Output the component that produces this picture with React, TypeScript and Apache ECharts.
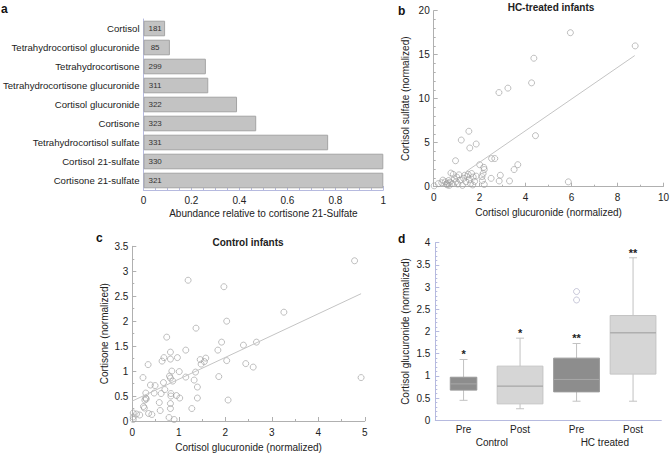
import React, { useEffect, useRef } from "react";
import * as echarts from "echarts";

// ---------- Panel a ----------
const steroidNames = [
  "Cortisol",
  "Tetrahydrocortisol glucuronide",
  "Tetrahydrocortisone",
  "Tetrahydrocortisone glucuronide",
  "Cortisol glucuronide",
  "Cortisone",
  "Tetrahydrocortisol sulfate",
  "Cortisol 21-sulfate",
  "Cortisone 21-sulfate",
];
const abundance = [0.09, 0.11, 0.26, 0.27, 0.39, 0.47, 0.77, 1.0, 1.0];
const sampleCounts = [181, 85, 299, 311, 322, 323, 331, 330, 321];

// ---------- Panel b (HC-treated infants) ----------
const hcPoints = [
  [0.02, 0.1], [0.2, 0.35], [0.35, 0.45], [0.4, 0.75], [0.5, 0.55], [0.55, 0.3],
  [0.6, 0.2], [0.62, 0.4], [0.65, 0.7], [0.68, 0.15], [0.7, 0.5], [0.75, 1.55],
  [0.8, 0.35], [0.85, 1.4], [0.9, 0.9], [0.95, 2.95], [0.98, 0.6], [1.0, 1.1],
  [1.05, 0.3], [1.1, 1.35], [1.15, 0.75], [1.2, 5.3], [1.25, 0.15], [1.3, 0.95],
  [1.35, 1.3], [1.4, 0.55], [1.45, 1.15], [1.5, 1.4], [1.53, 6.3], [1.55, 0.8],
  [1.57, 4.4], [1.6, 0.35], [1.65, 1.5], [1.7, 0.2], [1.72, 1.1], [1.78, 0.6],
  [1.85, 4.85], [1.85, 1.2], [2.0, 2.5], [2.1, 1.15], [2.12, 0.7], [2.15, 1.5],
  [2.18, 2.2], [2.2, 0.25], [2.2, 1.95], [2.5, 0.95], [2.52, 3.2], [2.66, 3.2],
  [2.84, 10.7], [2.85, 0.65], [2.9, 1.3], [3.23, 11.2], [3.3, 0.65], [3.5, 1.95],
  [3.66, 2.5], [4.26, 11.8], [4.36, 14.6], [4.43, 5.8], [5.86, 0.55], [5.95, 17.5],
  [8.77, 16.0],
];
const hcFit = [[1.4, 1.7], [8.75, 14.9]];

// ---------- Panel c (Control infants) ----------
const controlPoints = [
  [1.2, 2.82], [1.97, 2.69], [3.26, 2.18], [2.03, 2.0], [1.37, 1.86], [0.74, 1.68],
  [1.92, 1.58], [2.67, 1.58], [2.39, 1.52], [1.84, 1.42], [1.15, 1.42], [0.82, 1.38],
  [0.68, 1.27], [0.97, 1.27], [0.82, 1.24], [0.64, 1.2], [1.58, 1.26], [1.46, 1.23],
  [1.55, 1.19], [1.48, 1.14], [2.03, 1.21], [2.44, 1.15], [2.6, 1.08], [0.34, 1.13],
  [0.85, 1.0], [1.01, 0.99], [1.36, 0.98], [0.23, 0.87], [0.8, 0.9], [0.82, 0.86],
  [1.86, 0.89], [1.15, 0.88], [1.33, 0.82], [0.87, 0.8], [0.67, 0.77], [0.39, 0.72],
  [0.49, 0.71], [1.4, 0.68], [0.7, 0.63], [0.29, 0.56], [0.47, 0.56], [0.62, 0.55],
  [0.83, 0.55], [0.95, 0.51], [1.02, 0.46], [1.4, 0.46], [0.29, 0.46], [0.83, 0.5],
  [2.06, 0.42], [0.3, 0.44], [0.27, 0.42], [0.58, 0.37], [0.82, 0.35], [0.24, 0.29],
  [0.26, 0.26], [1.28, 0.25], [0.82, 0.25], [0.6, 0.21], [0.35, 0.15], [0.42, 0.13],
  [0.02, 0.16], [0.09, 0.14], [0.16, 0.12], [0.02, 0.08], [0.79, 0.07], [0.9, 0.03],
  [0.02, 0.03], [4.78, 3.21], [4.92, 0.87],
];
const controlFit = [[0, 0.4], [4.92, 2.55]];

// ---------- Panel d (box plot) ----------
const boxCategories = ["Pre", "Post", "Pre", "Post"];
const boxGroups = ["Control", "HC treated"];
// [low whisker, q1, median, q3, high whisker]
const boxStats = [
  [0.45, 0.68, 0.82, 0.97, 1.37],
  [0.26, 0.37, 0.77, 1.22, 1.85],
  [0.43, 0.64, 0.92, 1.4, 1.73],
  [0.43, 1.04, 1.97, 2.36, 3.66],
];
const boxOutliers = [[2, 2.9], [2, 2.71]];
const significance = ["*", "*", "**", "**"];

// ---------- styles ----------
const FONT = "'Liberation Sans', Arial, Helvetica, sans-serif";
const TEXT = "#222";
const AXIS_GREY = "#b0b0b0";
const AXIS_BLUE = "#b6badf";
const BOX_WIDTH_FRACTION = [0.47, 0.81, 0.81, 0.81];

function valueAxis(gridIndex: number, min: number, max: number, interval: number, name: string, nameGap: number, color: string, minorSplit: number, margin: number, extra: any = {}) {
  return {
    gridIndex,
    type: "value",
    min,
    max,
    interval,
    name,
    nameLocation: "middle",
    nameGap,
    nameTextStyle: { color: TEXT, fontSize: 10, fontFamily: FONT },
    axisLine: { show: true, lineStyle: { color, width: 1 } },
    axisTick: { show: true, inside: true, length: 4, lineStyle: { color } },
    minorTick: { show: true, splitNumber: minorSplit, length: 2, lineStyle: { color } },
    axisLabel: { color: TEXT, fontSize: 10, fontFamily: FONT, margin },
    splitLine: { show: false },
    ...extra,
  };
}

const scatterStyle = {
  color: "rgba(0,0,0,0)",
  borderColor: "#9a9a9a",
  borderWidth: 0.8,
};

export default function App() {
  const ref = useRef<HTMLDivElement>(null);

  useEffect(() => {
    if (!ref.current) return;
    const chart = echarts.init(ref.current, undefined, { renderer: "svg" });

    const option: any = {
      animation: false,
      textStyle: { fontFamily: FONT },
      grid: [
        { left: 142.7, top: 19, width: 240.6, height: 171 },
        { left: 433.7, top: 10.7, width: 232.3, height: 176 },
        { left: 132.3, top: 246.3, width: 232.5, height: 174.7 },
        { left: 435.3, top: 242.7, width: 226, height: 177.6 },
      ],
      xAxis: [
        valueAxis(0, 0, 1, 0.2, "Abundance relative to cortisone 21-Sulfate", 18, AXIS_BLUE, 4, 5),
        valueAxis(1, 0, 10, 2, "Cortisol glucuronide (normalized)", 21, AXIS_GREY, 2, 6),
        valueAxis(2, 0, 5, 1, "Cortisol glucuronide (normalized)", 21, AXIS_GREY, 2, 6),
        {
          gridIndex: 3,
          type: "category",
          data: boxCategories,
          axisLine: { show: true, lineStyle: { color: AXIS_BLUE } },
          axisTick: { show: false },
          axisLabel: { color: TEXT, fontSize: 10, fontFamily: FONT, margin: 4 },
        },
        {
          gridIndex: 3,
          type: "category",
          data: boxGroups,
          position: "bottom",
          offset: 13,
          axisLine: { show: false },
          axisTick: { show: false },
          axisLabel: { color: TEXT, fontSize: 10, fontFamily: FONT, margin: 4 },
        },
      ],
      yAxis: [
        {
          gridIndex: 0,
          type: "category",
          data: steroidNames,
          inverse: true,
          axisLine: { show: true, lineStyle: { color: AXIS_BLUE } },
          axisTick: { show: false },
          axisLabel: { color: TEXT, fontSize: 9.6, fontFamily: FONT, margin: 4 },
        },
        valueAxis(1, 0, 20, 5, "Cortisol sulfate (normalized)", 23, AXIS_GREY, 5, 4),
        valueAxis(2, 0, 3.5, 0.5, "Cortisone (normalized)", 23, AXIS_GREY, 2, 4),
        valueAxis(3, 0, 4, 0.5, "Cortisol glucuronide (normalized)", 25, AXIS_BLUE, 5, 5),
      ],
      series: [
        {
          type: "bar",
          xAxisIndex: 0,
          yAxisIndex: 0,
          data: abundance,
          barCategoryGap: "18%",
          itemStyle: { color: "#c3c3c3", borderColor: "#a4a4a4", borderWidth: 1 },
          label: {
            show: true,
            position: [11.6, "50%"],
            align: "center",
            verticalAlign: "middle",
            fontSize: 8,
            color: "#333",
            fontFamily: FONT,
            formatter: (p: any) => String(sampleCounts[p.dataIndex]),
          },
        },
        {
          type: "line",
          xAxisIndex: 1,
          yAxisIndex: 1,
          data: hcFit,
          symbol: "none",
          lineStyle: { color: "#c4c4c4", width: 1 },
        },
        {
          type: "scatter",
          xAxisIndex: 1,
          yAxisIndex: 1,
          data: hcPoints,
          symbol: "circle",
          symbolSize: 6,
          itemStyle: scatterStyle,
        },
        {
          type: "line",
          xAxisIndex: 2,
          yAxisIndex: 2,
          data: controlFit,
          symbol: "none",
          lineStyle: { color: "#c4c4c4", width: 1 },
        },
        {
          type: "scatter",
          xAxisIndex: 2,
          yAxisIndex: 2,
          data: controlPoints,
          symbol: "circle",
          symbolSize: 6,
          itemStyle: scatterStyle,
        },
        {
          type: "custom",
          xAxisIndex: 3,
          yAxisIndex: 3,
          data: boxStats.map((s, i) => [i, ...s]),
          encode: { x: 0, y: [1, 2, 3, 4, 5] },
          renderItem: (params: any, api: any) => {
            const idx = api.value(0);
            const lowP = api.coord([idx, api.value(1)]);
            const q1P = api.coord([idx, api.value(2)]);
            const medP = api.coord([idx, api.value(3)]);
            const q3P = api.coord([idx, api.value(4)]);
            const highP = api.coord([idx, api.value(5)]);
            const band = api.size([1, 0])[0];
            const w = band * BOX_WIDTH_FRACTION[idx];
            const cx = medP[0];
            const dark = idx % 2 === 0;
            const cap = 4;
            const whisker = { stroke: "#c2c2c2", lineWidth: 1 };
            return {
              type: "group",
              children: [
                { type: "line", shape: { x1: cx, y1: highP[1], x2: cx, y2: q3P[1] }, style: whisker },
                { type: "line", shape: { x1: cx, y1: q1P[1], x2: cx, y2: lowP[1] }, style: whisker },
                { type: "line", shape: { x1: cx - cap, y1: highP[1], x2: cx + cap, y2: highP[1] }, style: whisker },
                { type: "line", shape: { x1: cx - cap, y1: lowP[1], x2: cx + cap, y2: lowP[1] }, style: whisker },
                {
                  type: "rect",
                  shape: { x: cx - w / 2, y: q3P[1], width: w, height: q1P[1] - q3P[1] },
                  style: {
                    fill: dark ? "#8d8d8d" : "#d6d6d6",
                    stroke: dark ? "#9a9a9a" : "#c4c4c4",
                    lineWidth: 1,
                  },
                },
                {
                  type: "line",
                  shape: { x1: cx - w / 2, y1: medP[1], x2: cx + w / 2, y2: medP[1] },
                  style: { stroke: dark ? "#a8a8a8" : "#9c9c9c", lineWidth: 1 },
                },
                {
                  type: "text",
                  x: cx,
                  y: highP[1] - 5,
                  style: {
                    text: significance[idx],
                    align: "center",
                    verticalAlign: "middle",
                    fontSize: 11,
                    fontWeight: "bold",
                    fontFamily: FONT,
                    fill: TEXT,
                  },
                },
              ],
            };
          },
        },
        {
          type: "scatter",
          xAxisIndex: 3,
          yAxisIndex: 3,
          data: boxOutliers,
          symbol: "circle",
          symbolSize: 6,
          itemStyle: { color: "rgba(0,0,0,0)", borderColor: "#b4b4cc", borderWidth: 0.9 },
        },
      ],
      graphic: [
        { type: "text", x: 1, y: 8.5, style: { text: "a", fontSize: 12, fontWeight: "bold", fontFamily: FONT, fill: "#111", verticalAlign: "middle" } },
        { type: "text", x: 398, y: 11, style: { text: "b", fontSize: 12, fontWeight: "bold", fontFamily: FONT, fill: "#111", verticalAlign: "middle" } },
        { type: "text", x: 96, y: 238, style: { text: "c", fontSize: 12, fontWeight: "bold", fontFamily: FONT, fill: "#111", verticalAlign: "middle" } },
        { type: "text", x: 398, y: 239, style: { text: "d", fontSize: 12, fontWeight: "bold", fontFamily: FONT, fill: "#111", verticalAlign: "middle" } },
        { type: "text", x: 551, y: 7, style: { text: "HC-treated infants", fontSize: 10, fontWeight: "bold", fontFamily: FONT, fill: TEXT, align: "center", verticalAlign: "middle" } },
        { type: "text", x: 248, y: 242, style: { text: "Control infants", fontSize: 10, fontWeight: "bold", fontFamily: FONT, fill: TEXT, align: "center", verticalAlign: "middle" } },
      ],
    };

    chart.setOption(option);
    return () => chart.dispose();
  }, []);

  return (
    <div
      ref={ref}
      style={{ position: "fixed", left: 0, top: 0, width: 672, height: 454, background: "#fff" }}
    />
  );
}
